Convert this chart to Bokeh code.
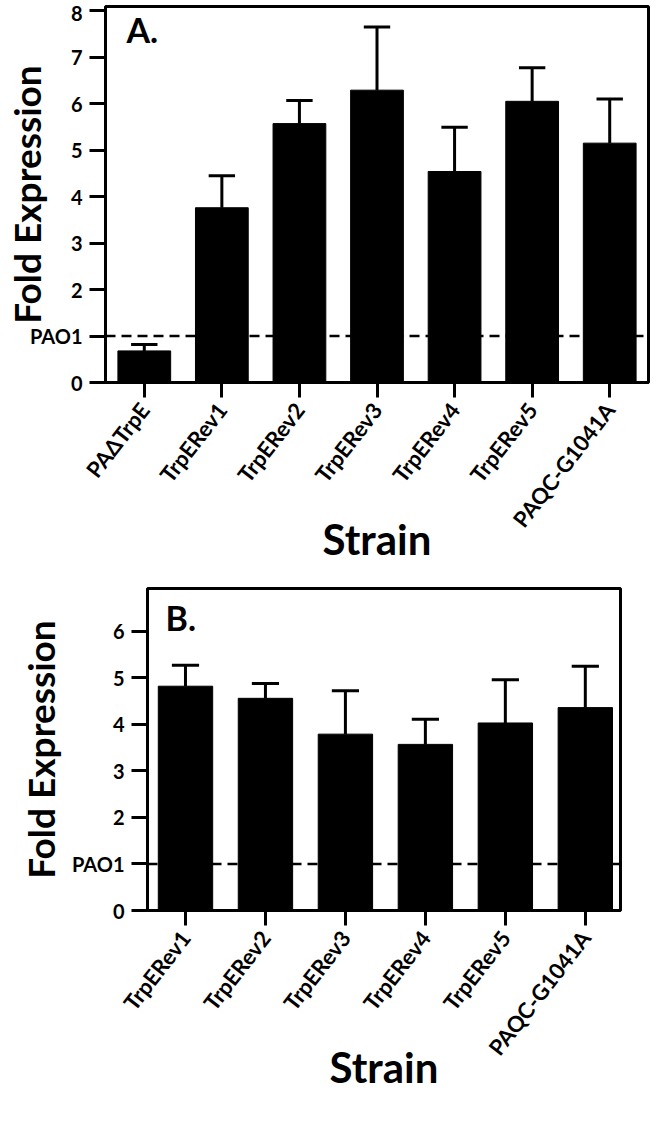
import numpy as np
from bokeh.plotting import figure
from bokeh.models import Range1d, FixedTicker, Span, Label
from bokeh.embed import file_html
from bokeh.resources import INLINE

# ---- data ----
strains_a = ["PA\u0394TrpE", "TrpERev1", "TrpERev2", "TrpERev3", "TrpERev4", "TrpERev5", "PAQC-G1041A"]
fold_a = [0.68, 3.76, 5.57, 6.29, 4.54, 6.05, 5.15]
err_a = [0.14, 0.69, 0.50, 1.36, 0.95, 0.72, 0.95]

strains_b = ["TrpERev1", "TrpERev2", "TrpERev3", "TrpERev4", "TrpERev5", "PAQC-G1041A"]
fold_b = [4.82, 4.56, 3.79, 3.57, 4.03, 4.36]
err_b = [0.45, 0.32, 0.93, 0.54, 0.93, 0.89]

y_ticks_a = [0, 1, 2, 3, 4, 5, 6, 7, 8]
y_ticks_b = [0, 1, 2, 3, 4, 5, 6]
baseline_value = 1
baseline_label = "PAO1"
x_title = "Strain"
y_title = "Fold Expression"

FONT = "Lato"


def make_panel(strains, fold, err, yticks, x_range, ymax, panel_label,
               height, mb_top, mb_left, mb_right, ylab_standoff, lab_dx, lab_dy):
    n = len(strains)
    xs = np.arange(n)
    fold = np.array(fold)
    tops = fold + np.array(err)
    p = figure(width=650, height=height,
               x_range=Range1d(*x_range), y_range=Range1d(0, ymax),
               output_backend="svg", toolbar_location=None,
               min_border_top=mb_top, min_border_left=mb_left,
               min_border_right=mb_right, min_border_bottom=196)
    p.grid.visible = False
    p.outline_line_color = "black"
    p.outline_line_width = 3
    p.outline_line_alpha = 1

    p.vbar(x=xs, top=fold, width=0.68, bottom=0, fill_color="black", line_color="black")
    p.segment(x0=xs, y0=fold, x1=xs, y1=tops, line_color="black", line_width=3)
    p.segment(x0=xs - 0.17, y0=tops, x1=xs + 0.17, y1=tops, line_color="black", line_width=3)

    p.add_layout(Span(location=baseline_value, dimension="width", line_color="black",
                      line_width=2.5, line_dash="10 6"))

    # x axis
    p.xaxis.ticker = FixedTicker(ticks=[int(v) for v in xs])
    p.xaxis.major_label_overrides = {int(i): s for i, s in enumerate(strains)}
    p.xaxis.major_label_orientation = 0.91
    p.xaxis.major_tick_out = 15
    p.xaxis.major_tick_in = 0
    p.xaxis.major_label_standoff = 8
    p.xaxis.axis_label = x_title
    p.xaxis.axis_label_text_font_size = "42px"
    p.xaxis.axis_label_standoff = -30
    p.xaxis.major_label_text_font_size = "22px"

    # y axis
    p.yaxis.ticker = FixedTicker(ticks=yticks)
    p.yaxis.major_label_overrides = {baseline_value: baseline_label}
    p.yaxis.major_tick_out = 16
    p.yaxis.major_tick_in = 0
    p.yaxis.major_label_standoff = 7
    p.yaxis.axis_label = y_title
    p.yaxis.axis_label_text_font_size = "37px"
    p.yaxis.axis_label_standoff = ylab_standoff
    p.yaxis.major_label_text_font_size = "20px"

    for ax in (p.xaxis, p.yaxis):
        ax.minor_tick_line_color = None
        ax.axis_line_width = 3
        ax.axis_line_color = "black"
        ax.major_tick_line_width = 3
        ax.major_tick_line_color = "black"
        ax.major_label_text_font = FONT
        ax.major_label_text_font_style = "bold"
        ax.major_label_text_color = "black"
        ax.axis_label_text_font = FONT
        ax.axis_label_text_font_style = "bold"
        ax.axis_label_text_color = "black"

    p.add_layout(Label(x=x_range[0], y=ymax, x_offset=lab_dx, y_offset=lab_dy, text=panel_label,
                       text_font=FONT, text_font_style="bold", text_font_size="34px",
                       text_align="left", text_baseline="top", text_color="black"))
    return p


pa = make_panel(strains_a, fold_a, err_a, y_ticks_a, (-0.5, 6.5), 8.09, "A.",
                height=578, mb_top=6, mb_left=96, mb_right=2, ylab_standoff=-22,
                lab_dx=21, lab_dy=-2)
pb = make_panel(strains_b, fold_b, err_b, y_ticks_b, (-0.475, 5.44), 6.92, "B.",
                height=528, mb_top=10, mb_left=147, mb_right=30, ylab_standoff=6,
                lab_dx=18, lab_dy=-8)

open("out.html", "w").write(file_html([pa, pb], INLINE))
